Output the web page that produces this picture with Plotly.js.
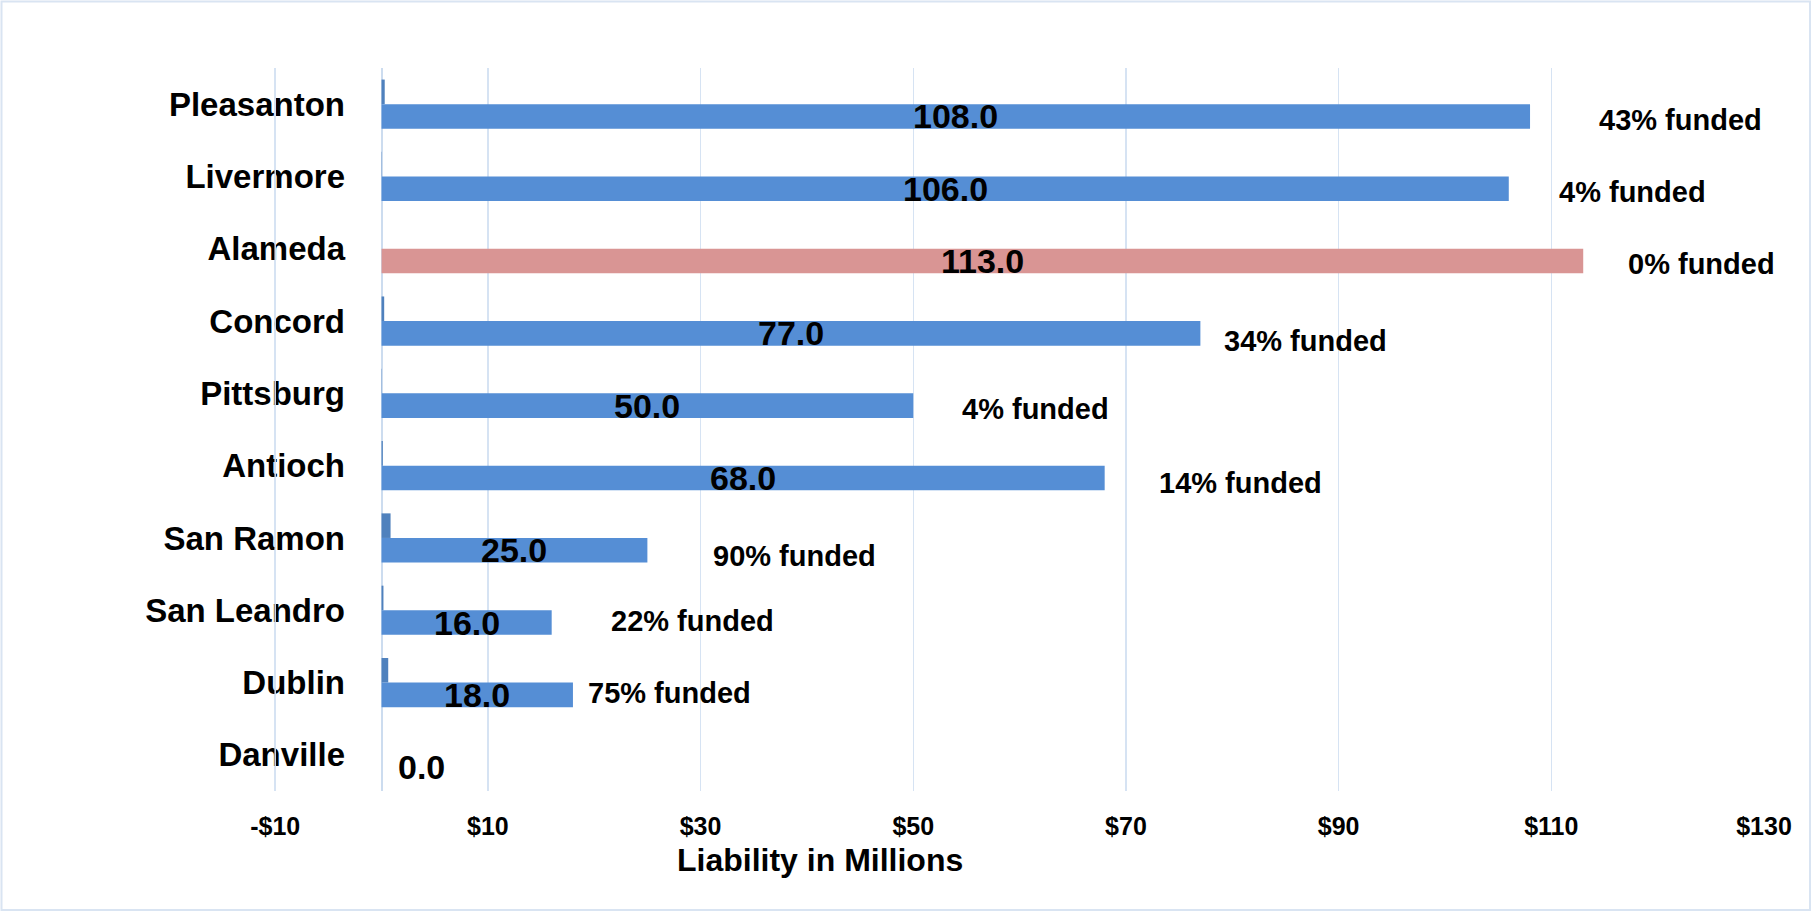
<!DOCTYPE html>
<html>
<head>
<meta charset="utf-8">
<script src="https://cdn.plot.ly/plotly-3.0.1.min.js"></script>
<style>
  html, body { margin: 0; padding: 0; background: #ffffff; }
  #chart { width: 1813px; height: 912px; }
</style>
</head>
<body>
<div id="chart"></div>
<script>
// ---- data ----
const categories = ['Pleasanton', 'Livermore', 'Alameda', 'Concord', 'Pittsburg',
                    'Antioch', 'San Ramon', 'San Leandro', 'Dublin', 'Danville'];
const liability = [108.0, 106.0, 113.0, 77.0, 50.0, 68.0, 25.0, 16.0, 18.0, 0.0];
const fundedRatio = [0.3, 0.03, 0, 0.25, 0.03, 0.12, 0.85, 0.18, 0.63, 0];
const fundedPct = [43, 4, 0, 34, 4, 14, 90, 22, 75, null];
const tickValues = [-10, 10, 30, 50, 70, 90, 110, 130];
const tickLabels = ['-$10', '$10', '$30', '$50', '$70', '$90', '$110', '$130'];
const axisTitle = 'Liability in Millions';

// ---- layout constants ----
const W = 1813, H = 912;
const M = { l: 272, r: 49, t: 68, b: 121 };
const plotW = W - M.l - M.r, plotH = H - M.t - M.b;
const FONT = 'Liberation Sans, Arial, sans-serif';
const BLUE = '#558ED5', PINK = '#D99594', DARKBLUE = '#4F81BD';
const GRID = '#D6E3F3';
const xRange = [-10.3, 130];

// label placement (position of each "funded" label: left edge in axis units, vertical shift px)
const fundedLabelX = [114.3, 110.5, 117.0, 79.0, 54.4, 72.9, 31.0, 21.4, 19.2, null];
const fundedLabelDy = [15.5, 15.5, 15.2, 20.4, 15.6, 17.3, 18.0, 10.7, 10.4, 0];

const mainColors = categories.map(c => c === 'Alameda' ? PINK : BLUE);

const traces = [
  {
    type: 'bar', orientation: 'h',
    y: categories, x: fundedRatio,
    marker: { color: DARKBLUE },
    hoverinfo: 'skip', showlegend: false
  },
  {
    type: 'bar', orientation: 'h',
    y: categories, x: liability,
    marker: { color: mainColors },
    hoverinfo: 'skip', showlegend: false
  }
];

const bargap = 0.32;
const barPx = (1 - bargap) / 2 * (plotH / categories.length);

const annotations = [];
// value labels centred in the liability bars
categories.forEach((c, i) => {
  const v = liability[i];
  annotations.push({
    x: v > 0 ? v / 2 : 0, y: c, xref: 'x', yref: 'y',
    text: v.toFixed(1), showarrow: false,
    xanchor: v > 0 ? 'center' : 'left', xshift: v > 0 ? 0 : 14,
    yanchor: 'middle', yshift: -barPx / 2,
    font: { family: FONT, size: 34, color: '#000', weight: 'bold' }
  });
});
// funded labels
categories.forEach((c, i) => {
  if (fundedPct[i] === null) return;
  annotations.push({
    x: fundedLabelX[i], y: c, xref: 'x', yref: 'y',
    text: fundedPct[i] + '% funded', showarrow: false,
    xanchor: 'left', yanchor: 'middle', yshift: -fundedLabelDy[i],
    font: { family: FONT, size: 29, color: '#000', weight: 'bold' }
  });
});
// axis title
annotations.push({
  x: (820 - M.l) / plotW, y: (M.t + plotH - 860) / plotH,
  xref: 'paper', yref: 'paper', text: axisTitle, showarrow: false,
  xanchor: 'center', yanchor: 'middle',
  font: { family: FONT, size: 32, color: '#000', weight: 'bold' }
});

const layout = {
  width: W, height: H,
  margin: M,
  paper_bgcolor: '#ffffff', plot_bgcolor: '#ffffff',
  barmode: 'group', bargap: bargap, bargroupgap: 0,
  showlegend: false,
  xaxis: {
    range: xRange,
    tickmode: 'array', tickvals: tickValues, ticktext: tickLabels,
    showgrid: true, gridcolor: GRID, gridwidth: 1.5,
    zeroline: true, zerolinecolor: '#CCDCEF', zerolinewidth: 2,
    showline: false, ticks: '',
    ticklabelstandoff: 18,
    tickfont: { family: FONT, size: 25, color: '#000', weight: 'bold' },
    fixedrange: true
  },
  yaxis: {
    type: 'category', autorange: 'reversed',
    anchor: 'free', position: (345 - M.l) / plotW,
    showgrid: false, zeroline: false, showline: false, ticks: '',
    tickfont: { family: FONT, size: 33, color: '#000', weight: 'bold' },
    automargin: false, fixedrange: true
  },
  annotations: annotations,
  shapes: [
    // gridline at the first tick of the value axis
    {
      type: 'line', xref: 'x', yref: 'paper',
      x0: tickValues[0], x1: tickValues[0], y0: 0, y1: 1,
      line: { color: GRID, width: 1.5 }, layer: 'above'
    },
    // chart-area border
    {
      type: 'rect', xref: 'paper', yref: 'paper',
      x0: (1.5 - M.l) / plotW, x1: (W - 3 - M.l) / plotW,
      y0: -(H - 2 - M.t - plotH) / plotH, y1: (M.t + plotH - 1.5) / plotH,
      line: { color: '#D9E4F2', width: 2 }, fillcolor: 'rgba(0,0,0,0)', layer: 'above'
    }
  ]
};

Plotly.newPlot('chart', traces, layout, { displayModeBar: false, staticPlot: true });
</script>
</body>
</html>
